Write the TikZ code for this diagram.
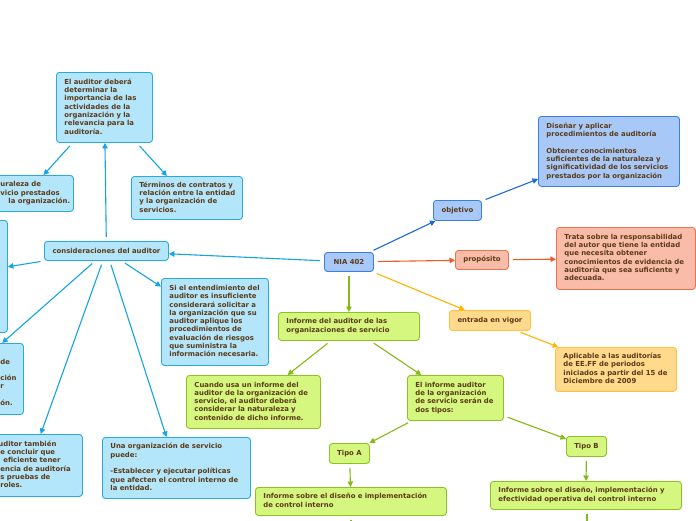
\documentclass[tikz,border=0pt]{standalone}
\usepackage{fontspec}
\setmainfont{DejaVu Sans}
\usetikzlibrary{arrows.meta}
\definecolor{txt}{HTML}{5B3A17}
\definecolor{cyanfill}{HTML}{B3E5FB}
\definecolor{cyanline}{HTML}{2AA9E0}
\definecolor{cyanarrow}{HTML}{14A4E4}
\definecolor{bluefill}{HTML}{A8C9F8}
\definecolor{blueline}{HTML}{3B7FE6}
\definecolor{bluearrow}{HTML}{1C6BDB}
\definecolor{orfill}{HTML}{F9BCA8}
\definecolor{orline}{HTML}{F0714D}
\definecolor{orarrow}{HTML}{F05A28}
\definecolor{yefill}{HTML}{FFD98C}
\definecolor{yeline}{HTML}{FFC03A}
\definecolor{yearrow}{HTML}{FFB400}
\definecolor{grfill}{HTML}{D5F77F}
\definecolor{grline}{HTML}{8DC320}
\definecolor{grarrow}{HTML}{86B817}
\newcommand\BoxAt[7]{%
  \pgfmathsetmacro\BoxTW{#5-16}%
  \node[#2, anchor=north west, minimum width=#5pt, minimum height=#6pt,
        text width=\BoxTW pt] (#1) at (#3,#4)
        {\begin{tabular}{@{}l@{}}#7\end{tabular}};}
\newcommand\BoxMid[7]{%
  \node[#2, anchor=north west, minimum width=#5pt, minimum height=#6pt,
        inner xsep=0pt] (#1) at (#3,#4) {#7};}
\tikzset{
  card/.style={draw, rounded corners=3pt, line width=0.9pt, text=txt,
    font=\fontsize{6.9}{8.3}\selectfont\bfseries, align=left,
    inner xsep=8pt, inner ysep=0pt},
  cyanbox/.style={card, fill=cyanfill, draw=cyanline},
  bluebox/.style={card, fill=bluefill, draw=blueline},
  orbox/.style={card, fill=orfill, draw=orline},
  yebox/.style={card, fill=yefill, draw=yeline},
  grbox/.style={card, fill=grfill, draw=grline},
  mid/.style={align=center},
  conn/.style={line width=1.1pt, -{Triangle[length=5.5pt,width=5.5pt]}, shorten <=4pt}
}
\begin{document}
\begin{tikzpicture}[x=1pt,y=-1pt]
\useasboundingbox (0,0) rectangle (696,520);
\clip (0,0) rectangle (696,520);
\fill[white] (0,0) rectangle (696,520);
% central
\BoxMid{nia}{bluebox,mid}{324}{252}{49}{19}{NIA 402}
\BoxMid{obj}{bluebox,mid}{433}{200}{48}{20}{objetivo}
\BoxAt{objd}{bluebox}{538}{116}{141}{70}{Diseñar y aplicar\\procedimientos de auditoría\\\mbox{}\\Obtener conocimientos\\suficientes de la naturaleza y\\significatividad de los servicios\\prestados por la organización}
\BoxMid{prop}{orbox,mid}{455}{250}{53}{19}{propósito}
\BoxAt{propd}{orbox}{556}{227}{139}{62}{Trata sobre la responsabilidad\\del autor que tiene la entidad\\que necesita obtener\\conocimientos de evidencia de\\auditoría que sea suficiente y\\adecuada.}
\BoxMid{ent}{yebox,mid}{449}{310}{81}{20}{entrada en vigor}
\BoxAt{entd}{yebox}{555}{347}{121}{44}{Aplicable a las auditorías\\de EE.FF de periodos\\iniciados a partir del 15 de\\Diciembre de 2009}
\BoxAt{inf}{grbox}{278}{312}{141}{28}{Informe del auditor de las\\organizaciones de servicio}
\BoxAt{cuando}{grbox}{186}{375}{134}{53}{Cuando usa un informe del\\auditor de la organización de\\servicio, el auditor deberá\\considerar la naturaleza y\\contenido de dicho informe.}
\BoxAt{elinf}{grbox}{407}{375}{96}{45}{El informe auditor\\de la organización\\de servicio serán de\\dos tipos:}
\BoxMid{tipoa}{grbox,mid}{329}{443}{40}{20}{Tipo A}
\BoxMid{tipob}{grbox,mid}{566}{436}{40}{20}{Tipo B}
\BoxAt{infa}{grbox}{255}{487}{191}{28}{Informe sobre el diseño e implementación\\de control interno}
\BoxAt{infb}{grbox}{490}{481}{191}{28}{Informe sobre el diseño, implementación y\\efectividad operativa del control interno}
% consideraciones
\BoxMid{cons}{cyanbox,mid}{44}{241}{124}{19}{consideraciones del auditor}
\BoxAt{eldeb}{cyanbox}{56}{72}{96}{70}{El auditor deberá\\determinar la\\importancia de las\\actividades de la\\organización y la\\relevancia para la\\auditoría.}
\BoxAt{term}{cyanbox}{131}{176}{111}{43}{Términos de contratos y\\relación entre la entidad\\y la organización de\\servicios.}
\BoxAt{nat}{cyanbox}{-20}{175}{93}{36}{\hspace*{12pt}uraleza de\\\hspace*{12pt}vicio prestados\\\hspace*{20pt}la organización.}
\BoxAt{bl}{cyanbox}{-113}{220}{120}{112}{\mbox{}}
\BoxAt{bm}{cyanbox}{-101}{343}{124}{71}{\mbox{}\\\hspace*{93pt}de\\\mbox{}\\\hspace*{93pt}ción\\\hspace*{93pt}r\\\mbox{}\\\hspace*{93pt}ón.}
\BoxAt{bb}{cyanbox}{-24}{434}{106}{62}{\hspace*{14pt}uditor también\\\hspace*{16pt}e concluir que\\\hspace*{19pt}eficiente tener\\\hspace*{16pt}encia de auditoría\\\hspace*{16pt}s pruebas de\\\hspace*{16pt}roles.}
\BoxAt{si}{cyanbox}{161}{278}{107}{87}{Si el entendimiento del\\auditor es insuficiente\\considerará solicitar a\\la organización que su\\auditor aplique los\\procedimientos de\\evaluación de riesgos\\que suministra la\\información necesaria.}
\BoxAt{una}{cyanbox}{102}{437}{148}{61}{Una organización de servicio\\puede:\\\mbox{}\\-Establecer y ejecutar políticas\\que afecten el control interno de\\la entidad.}
\coordinate (offa) at (351,545);
\coordinate (offb) at (587,545);
% connectors
\draw[conn, bluearrow] (nia) -- (obj);
\draw[conn, bluearrow] (obj) -- (objd);
\draw[conn, orarrow] (nia) -- (prop);
\draw[conn, orarrow] (prop) -- (propd);
\draw[conn, yearrow] (nia) -- (ent);
\draw[conn, yearrow] (ent) -- (entd);
\draw[conn, grarrow] (nia) -- (inf);
\draw[conn, grarrow] (inf) -- (cuando);
\draw[conn, grarrow] (inf) -- (elinf);
\draw[conn, grarrow] (elinf) -- (tipoa);
\draw[conn, grarrow] (elinf) -- (tipob);
\draw[conn, grarrow] (tipoa) -- (infa);
\draw[conn, grarrow] (tipob) -- (infb);
\draw[conn, grarrow] (infa.south -| offa) -- (offa);
\draw[conn, grarrow] (infb.south -| offb) -- (offb);
\draw[conn, cyanarrow] (nia) -- (cons);
\draw[conn, cyanarrow] (cons) -- (eldeb);
\draw[conn, cyanarrow] (eldeb) -- (nat);
\draw[conn, cyanarrow] (eldeb) -- (term);
\draw[conn, cyanarrow] (cons) -- (bl);
\draw[conn, cyanarrow] (cons) -- (bm);
\draw[conn, cyanarrow] (cons) -- (bb);
\draw[conn, cyanarrow] (cons) -- (una);
\draw[conn, cyanarrow] (cons) -- (si);
\end{tikzpicture}
\end{document}
